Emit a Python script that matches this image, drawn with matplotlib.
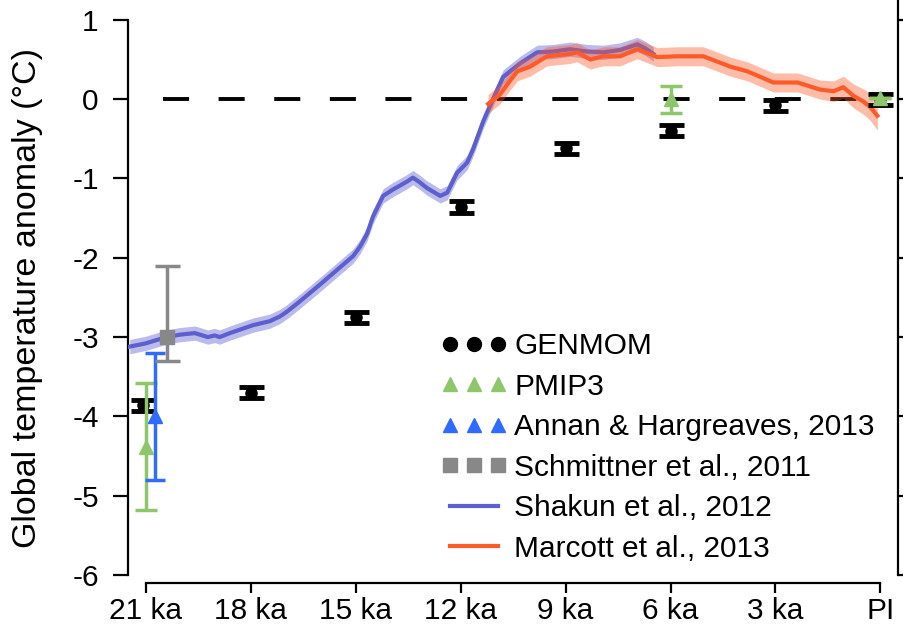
import numpy as np
import matplotlib
matplotlib.use('Agg')
import matplotlib.pyplot as plt
from matplotlib.lines import Line2D

plt.rcParams['font.family'] = ['Liberation Sans', 'DejaVu Sans']

# model / proxy estimates (ka before present, global anomaly in degC)
genmom_ka = [21.08, 18, 15, 12, 9, 6, 3, 0]
genmom_t = [-3.86, -3.70, -2.75, -1.36, -0.62, -0.40, -0.08, 0.0]
genmom_err = [0.07, 0.07, 0.07, 0.07, 0.07, 0.07, 0.07, 0.07]

pmip3_ka = [21.0, 6.0, 0.0]
pmip3_t = [-4.38, 0.0, 0.02]
pmip3_err = [0.80, 0.17, 0.0]

annan_ka = [20.72]
annan_t = [-4.0]
annan_err = [0.80]

schmittner_ka = [20.4]
schmittner_t = [-3.0]
schmittner_lo = [0.3]
schmittner_hi = [0.9]

# Shakun et al. 2012 stack
shakun_ka = [21.45, 21.0, 20.4, 20.02, 19.59, 19.22, 19.02, 18.88, 18.59, 17.93,
             17.45, 17.16, 16.96, 16.59, 16.02, 15.44, 15.07, 14.87, 14.67, 14.5,
             14.21, 13.93, 13.53, 13.36, 13.16, 12.96, 12.58, 12.38, 12.1, 11.81,
             11.64, 11.35, 11.07, 10.78, 10.3, 9.81, 9.35, 8.87, 8.38, 7.92,
             7.44, 6.95, 6.72, 6.49]
shakun_t = [-3.12, -3.08, -3.0, -2.97, -2.95, -3.0, -2.98, -3.0, -2.95, -2.85,
            -2.8, -2.74, -2.68, -2.55, -2.34, -2.12, -1.98, -1.86, -1.7, -1.48,
            -1.22, -1.14, -1.04, -0.99, -1.05, -1.12, -1.22, -1.18, -0.93, -0.8,
            -0.63, -0.28, 0.0, 0.28, 0.45, 0.59, 0.6, 0.63, 0.6, 0.59,
            0.62, 0.69, 0.64, 0.57]
shakun_sd = 0.09

# Marcott et al. 2013 stack
marcott_ka = [11.21, 10.87, 10.64, 10.38, 10.01, 9.53, 8.87, 8.67, 8.29, 7.92,
              7.44, 6.95, 6.38, 5.81, 5.06, 4.29, 3.8, 3.06, 2.37, 1.72,
              1.34, 1.06, 0.77, 0.49, 0.29, 0.09]
marcott_t = [-0.06, 0.06, 0.2, 0.35, 0.41, 0.54, 0.57, 0.59, 0.5, 0.54,
             0.54, 0.63, 0.53, 0.54, 0.54, 0.41, 0.35, 0.21, 0.21, 0.12,
             0.1, 0.15, 0.04, -0.03, -0.1, -0.21]
marcott_sd = [0.12, 0.12, 0.12, 0.12, 0.12, 0.12, 0.12, 0.12, 0.12, 0.12,
              0.12, 0.12, 0.12, 0.12, 0.12, 0.12, 0.12, 0.12, 0.12, 0.12,
              0.13, 0.14, 0.15, 0.16, 0.17, 0.18]

xtick_ka = [21, 18, 15, 12, 9, 6, 3, 0]
xtick_lbl = ['21 ka', '18 ka', '15 ka', '12 ka', '9 ka', '6 ka', '3 ka', 'PI']

c_shakun = '#5b5fcf'
c_marcott = '#ff5a28'
c_pmip = '#8dc66b'
c_annan = '#2f6bff'
c_schm = '#888888'
fs = 21.5

fig = plt.figure(figsize=(9.04, 6.28), dpi=100)
ax = fig.add_axes([128 / 904, 1 - 575 / 628, 770 / 904, 575 / 628])

ax.axhline(0, xmin=(21.5 - 20.5) / 22, xmax=21.5 / 22, color='k', lw=2.8,
           ls=(0, (6.7, 7.6)), zorder=1)

sh_t = np.array(shakun_t)
ax.fill_between(shakun_ka, sh_t - shakun_sd, sh_t + shakun_sd, color=c_shakun,
                alpha=0.42, lw=0, zorder=2)
ax.plot(shakun_ka, shakun_t, color=c_shakun, lw=3, zorder=3)

mc_t = np.array(marcott_t)
mc_sd = np.array(marcott_sd)
ax.fill_between(marcott_ka, mc_t - mc_sd, mc_t + mc_sd, color=c_marcott,
                alpha=0.4, lw=0, zorder=4)
ax.plot(marcott_ka, marcott_t, color=c_marcott, lw=3, zorder=5)

ax.errorbar(genmom_ka, genmom_t, yerr=genmom_err, fmt='o', color='k', ms=8,
            capsize=9, capthick=3.5, elinewidth=3, zorder=8)
ax.errorbar(pmip3_ka, pmip3_t, yerr=pmip3_err, fmt='^', color=c_pmip, ms=10,
            capsize=8, capthick=2.5, elinewidth=2.5, zorder=9)
ax.errorbar(annan_ka, annan_t, yerr=annan_err, fmt='^', color=c_annan, ms=10,
            capsize=7, capthick=2.5, elinewidth=2.5, zorder=9)
ax.errorbar(schmittner_ka, schmittner_t, yerr=[schmittner_lo, schmittner_hi],
            fmt='s', color=c_schm, ms=10, capsize=9, capthick=2.5,
            elinewidth=2.5, zorder=9)

ax.set_xlim(21.5, -0.5)
ax.set_ylim(-6, 1.25)

ax.spines['top'].set_visible(False)
for s in ['left', 'bottom', 'right']:
    ax.spines[s].set_linewidth(1.6)
ax.spines['left'].set_bounds(-6, 1)
ax.spines['bottom'].set_bounds(21, 0)
ax.spines['bottom'].set_position(('outward', 6))

ax.set_xticks(xtick_ka)
ax.set_xticklabels(xtick_lbl)
ax.set_yticks(range(-6, 2))
ax.set_yticklabels([str(v) for v in range(-6, 2)])
ax.tick_params(axis='y', which='both', direction='out', length=11, width=1.6,
               pad=10, labelsize=fs, right=True)
ax.tick_params(axis='x', direction='out', length=7.5, width=1.6, pad=2.5,
               labelsize=fs)

ax.set_ylabel('Global temperature anomaly (°C)', fontsize=24.5, va='center')
ax.yaxis.set_label_coords(-0.13, 0.482)

handles = [
    Line2D([], [], color='k', marker='o', ls='none', ms=10),
    Line2D([], [], color=c_pmip, marker='^', ls='none', ms=10),
    Line2D([], [], color=c_annan, marker='^', ls='none', ms=10),
    Line2D([], [], color=c_schm, marker='s', ls='none', ms=10),
    Line2D([], [], color=c_shakun, lw=3),
    Line2D([], [], color=c_marcott, lw=3),
]
labels = ['GENMOM', 'PMIP3', 'Annan & Hargreaves, 2013',
          'Schmittner et al., 2011', 'Shakun et al., 2012',
          'Marcott et al., 2013']
ax.legend(handles, labels, numpoints=3, frameon=False, fontsize=fs,
          loc='upper left', bbox_to_anchor=((441 - 128) / 770, (575 - 332) / 575),
          borderaxespad=0, borderpad=0, handlelength=2.2, handletextpad=0.25,
          labelspacing=0.42)

fig.savefig('out.png', dpi=100)
